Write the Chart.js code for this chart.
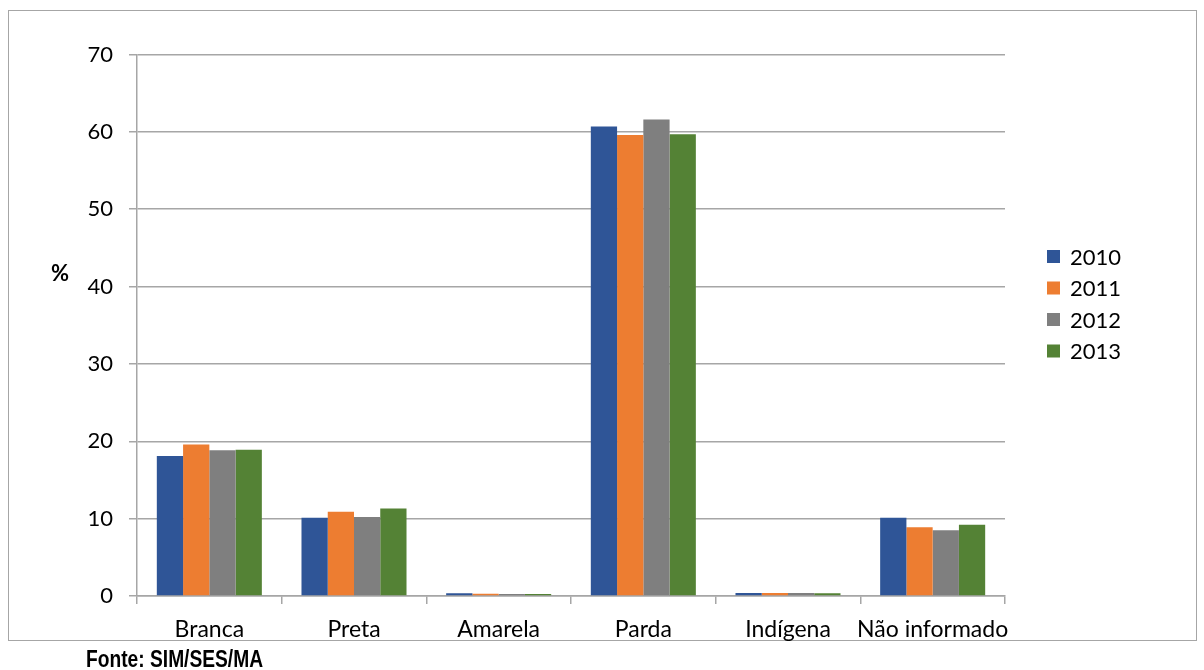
<!DOCTYPE html>
<html>
<head>
<meta charset="utf-8">
<script src="https://cdn.jsdelivr.net/npm/chart.js@4.4.1/dist/chart.umd.min.js"></script>
<style>
  html, body { margin: 0; padding: 0; background: #fff; width: 1204px; height: 670px; overflow: hidden; }
  #frame { position: absolute; left: 8px; top: 10px; width: 1187px; height: 629px; border: 1px solid #a6a6a6; }
  #wrap { position: absolute; left: 0; top: 0; width: 1204px; height: 670px; }
  #ylab { position: absolute; left: 51px; top: 262px; font: bold 22px Lato, sans-serif; line-height: 22px; color: #000; }
  #src { position: absolute; left: 86px; top: 647px; font-family: "Liberation Sans", Arial, sans-serif; font-weight: bold; font-size: 24px; line-height: 24px; color: #000; transform: scaleX(0.8); transform-origin: left top; white-space: nowrap; }
</style>
</head>
<body>
<div id="frame"></div>
<div id="wrap"><canvas id="c" width="1204" height="670"></canvas></div>
<div id="ylab">%</div>
<div id="src">Fonte: SIM/SES/MA</div>
<script>
// ---- data ----
const categories = ['Branca', 'Preta', 'Amarela', 'Parda', 'Indígena', 'Não informado'];
const seriesLabels = ['2010', '2011', '2012', '2013'];
const values2010 = [18.1, 10.1, 0.35, 60.7, 0.4, 10.1];
const values2011 = [19.6, 10.9, 0.3, 59.6, 0.4, 8.9];
const values2012 = [18.85, 10.2, 0.25, 61.6, 0.4, 8.5];
const values2013 = [18.9, 11.3, 0.25, 59.7, 0.35, 9.2];
const yTicks = [0, 10, 20, 30, 40, 50, 60, 70];

// ---- styles ----
const colors = ['#2F5597', '#ED7D31', '#7F7F7F', '#548235'];
const gridColor = '#a6a6a6';
const FONT = 'Lato, sans-serif';

const seriesValues = [values2010, values2011, values2012, values2013];

const sideLegend = {
  id: 'sideLegend',
  afterDraw(chart) {
    const ctx = chart.ctx;
    ctx.save();
    ctx.font = '22px ' + FONT;
    ctx.textBaseline = 'middle';
    ctx.textAlign = 'left';
    chart.data.datasets.forEach((ds, i) => {
      const y = 256.5 + i * 31.5;
      ctx.fillStyle = ds.backgroundColor;
      ctx.fillRect(1047, y - 6.5, 13, 13);
      ctx.fillStyle = '#000';
      ctx.fillText(ds.label, 1070, y + 1);
    });
    ctx.restore();
  }
};

new Chart(document.getElementById('c'), {
  type: 'bar',
  data: {
    labels: categories,
    datasets: seriesLabels.map((lab, i) => ({
      label: lab,
      data: seriesValues[i],
      backgroundColor: colors[i],
      borderWidth: 0,
      categoryPercentage: 0.726,
      barPercentage: 1.0
    }))
  },
  options: {
    responsive: false,
    animation: false,
    layout: { padding: { left: 20, right: 199, top: 54.5, bottom: 0 } },
    plugins: {
      legend: { display: false },
      tooltip: { enabled: false }
    },
    scales: {
      x: {
        grid: {
          offset: true,
          drawOnChartArea: false,
          drawTicks: true,
          tickLength: 8,
          color: gridColor,
          tickColor: gridColor,
          lineWidth: 1.5
        },
        border: { display: true, color: gridColor, width: 1.5 },
        ticks: {
          color: '#000',
          font: { family: FONT, size: 23 },
          padding: 12,
          maxRotation: 0,
          autoSkip: false
        },
        afterFit(scale) { scale.height = 670 - 596; }
      },
      y: {
        min: 0,
        max: 70,
        afterBuildTicks(scale) { scale.ticks = yTicks.map(v => ({ value: v })); },
        grid: {
          color: gridColor,
          tickColor: gridColor,
          lineWidth: 1.5,
          drawTicks: true,
          tickLength: 8
        },
        border: { display: true, color: gridColor, width: 1.5 },
        ticks: {
          color: '#000',
          font: { family: FONT, size: 22 },
          padding: 16
        },
        afterFit(scale) { scale.width = 137 - 20; }
      }
    }
  },
  plugins: [sideLegend]
});
</script>
</body>
</html>
